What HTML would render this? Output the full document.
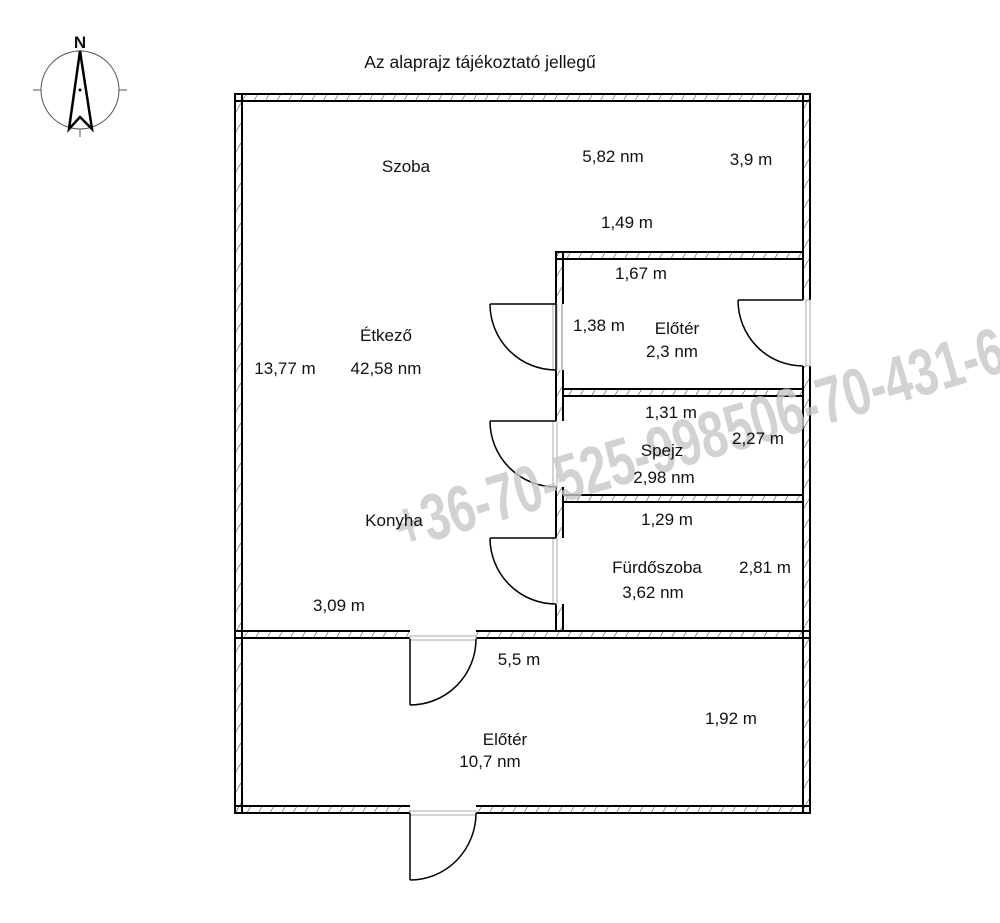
<!DOCTYPE html>
<html><head><meta charset="utf-8"><style>
html,body{margin:0;padding:0;background:#fff;}
svg{display:block;}
text{font-family:"Liberation Sans",sans-serif;fill:#111;}
</style></head><body>
<svg width="1000" height="923" viewBox="0 0 1000 923" xmlns="http://www.w3.org/2000/svg">
<defs>
<pattern id="h" width="10" height="10" patternUnits="userSpaceOnUse" patternTransform="rotate(30)">
<line x1="0" y1="0" x2="0" y2="10" stroke="#333" stroke-width="1"/>
</pattern>
</defs>
<g stroke="#000" stroke-width="2" fill="url(#h)">
<rect x="235" y="94" width="575" height="7"/>
<rect x="235" y="94" width="7" height="719"/>
<rect x="803" y="94" width="7" height="719"/>
<rect x="235" y="806" width="575" height="7"/>
<rect x="235" y="631" width="575" height="7"/>
<rect x="556" y="252" width="7" height="379"/>
<rect x="556" y="252" width="247" height="7"/>
<rect x="563" y="389" width="240" height="7"/>
<rect x="563" y="495" width="240" height="7"/>
</g>
<g fill="#fff" stroke="none">
<rect x="553" y="304" width="13" height="66"/>
<rect x="553" y="421" width="13" height="66"/>
<rect x="553" y="538" width="13" height="66"/>
<rect x="800" y="300" width="13" height="66"/>
<rect x="410" y="628" width="66" height="13"/>
<rect x="410" y="803" width="66" height="13"/>
</g>
<g fill="none" stroke="#aaa" stroke-width="1">
<rect x="553" y="304" width="4" height="66"/>
<rect x="553" y="421" width="4" height="66"/>
<rect x="553" y="538" width="4" height="66"/>
<rect x="806" y="300" width="4" height="66"/>
<rect x="410" y="636" width="66" height="4"/>
<rect x="410" y="811" width="66" height="4"/>
</g>
<g fill="none" stroke="#000" stroke-width="1.5">
<line x1="556" y1="304" x2="556" y2="370"/><line x1="562" y1="304" x2="562" y2="370" stroke="#aaa"/>
<line x1="490" y1="304" x2="556" y2="304"/><path d="M490 304 A66 66 0 0 0 556 370"/>
<line x1="490" y1="421" x2="556" y2="421"/><path d="M490 421 A66 66 0 0 0 556 487"/>
<line x1="490" y1="538" x2="556" y2="538"/><path d="M490 538 A66 66 0 0 0 556 604"/>
<line x1="738" y1="300" x2="803" y2="300"/><path d="M738 300 A65 66 0 0 0 803 366"/>
<line x1="410" y1="639" x2="410" y2="705"/><path d="M476 639 A66 66 0 0 1 410 705"/>
<line x1="410" y1="813" x2="410" y2="880"/><path d="M476 813 A66 67 0 0 1 410 880"/>
</g>
<g>
<circle cx="80" cy="90" r="39" fill="none" stroke="#555" stroke-width="1"/>
<line x1="33" y1="90" x2="41" y2="90" stroke="#555"/><line x1="119" y1="90" x2="127" y2="90" stroke="#555"/>
<line x1="80" y1="129" x2="80" y2="137" stroke="#555"/>
<path d="M80 51 L69 129 L80 117 L92 129 Z" fill="none" stroke="#000" stroke-width="2.5" stroke-linejoin="miter"/>
<circle cx="80" cy="90" r="1.5" fill="#000"/>
<text x="80" y="48" font-size="17" text-anchor="middle" font-weight="bold">N</text>
</g>
<text transform="translate(402,550) rotate(-16.5) scale(0.73,1)" font-size="66" font-weight="bold" style="fill:#c8c8c8;opacity:0.8">+36-70-525-998506-70-431-6</text>
<text x="480" y="68" font-size="17.5" text-anchor="middle">Az alaprajz tájékoztató jellegű</text>
<g font-size="17">
<text x="406" y="172" text-anchor="middle">Szoba</text>
<text x="613" y="162" text-anchor="middle">5,82 nm</text>
<text x="751" y="165" text-anchor="middle">3,9 m</text>
<text x="627" y="228" text-anchor="middle">1,49 m</text>
<text x="641" y="279" text-anchor="middle">1,67 m</text>
<text x="599" y="331" text-anchor="middle">1,38 m</text>
<text x="677" y="334" text-anchor="middle">Előtér</text>
<text x="672" y="357" text-anchor="middle">2,3 nm</text>
<text x="386" y="341" text-anchor="middle">Étkező</text>
<text x="386" y="374" text-anchor="middle">42,58 nm</text>
<text x="285" y="374" text-anchor="middle">13,77 m</text>
<text x="671" y="418" text-anchor="middle">1,31 m</text>
<text x="758" y="444" text-anchor="middle">2,27 m</text>
<text x="662" y="456" text-anchor="middle">Spejz</text>
<text x="664" y="483" text-anchor="middle">2,98 nm</text>
<text x="394" y="526" text-anchor="middle">Konyha</text>
<text x="667" y="525" text-anchor="middle">1,29 m</text>
<text x="657" y="573" text-anchor="middle">Fürdőszoba</text>
<text x="765" y="573" text-anchor="middle">2,81 m</text>
<text x="653" y="598" text-anchor="middle">3,62 nm</text>
<text x="339" y="611" text-anchor="middle">3,09 m</text>
<text x="519" y="665" text-anchor="middle">5,5 m</text>
<text x="731" y="724" text-anchor="middle">1,92 m</text>
<text x="505" y="745" text-anchor="middle">Előtér</text>
<text x="490" y="767" text-anchor="middle">10,7 nm</text>
</g>
</svg>
</body></html>
